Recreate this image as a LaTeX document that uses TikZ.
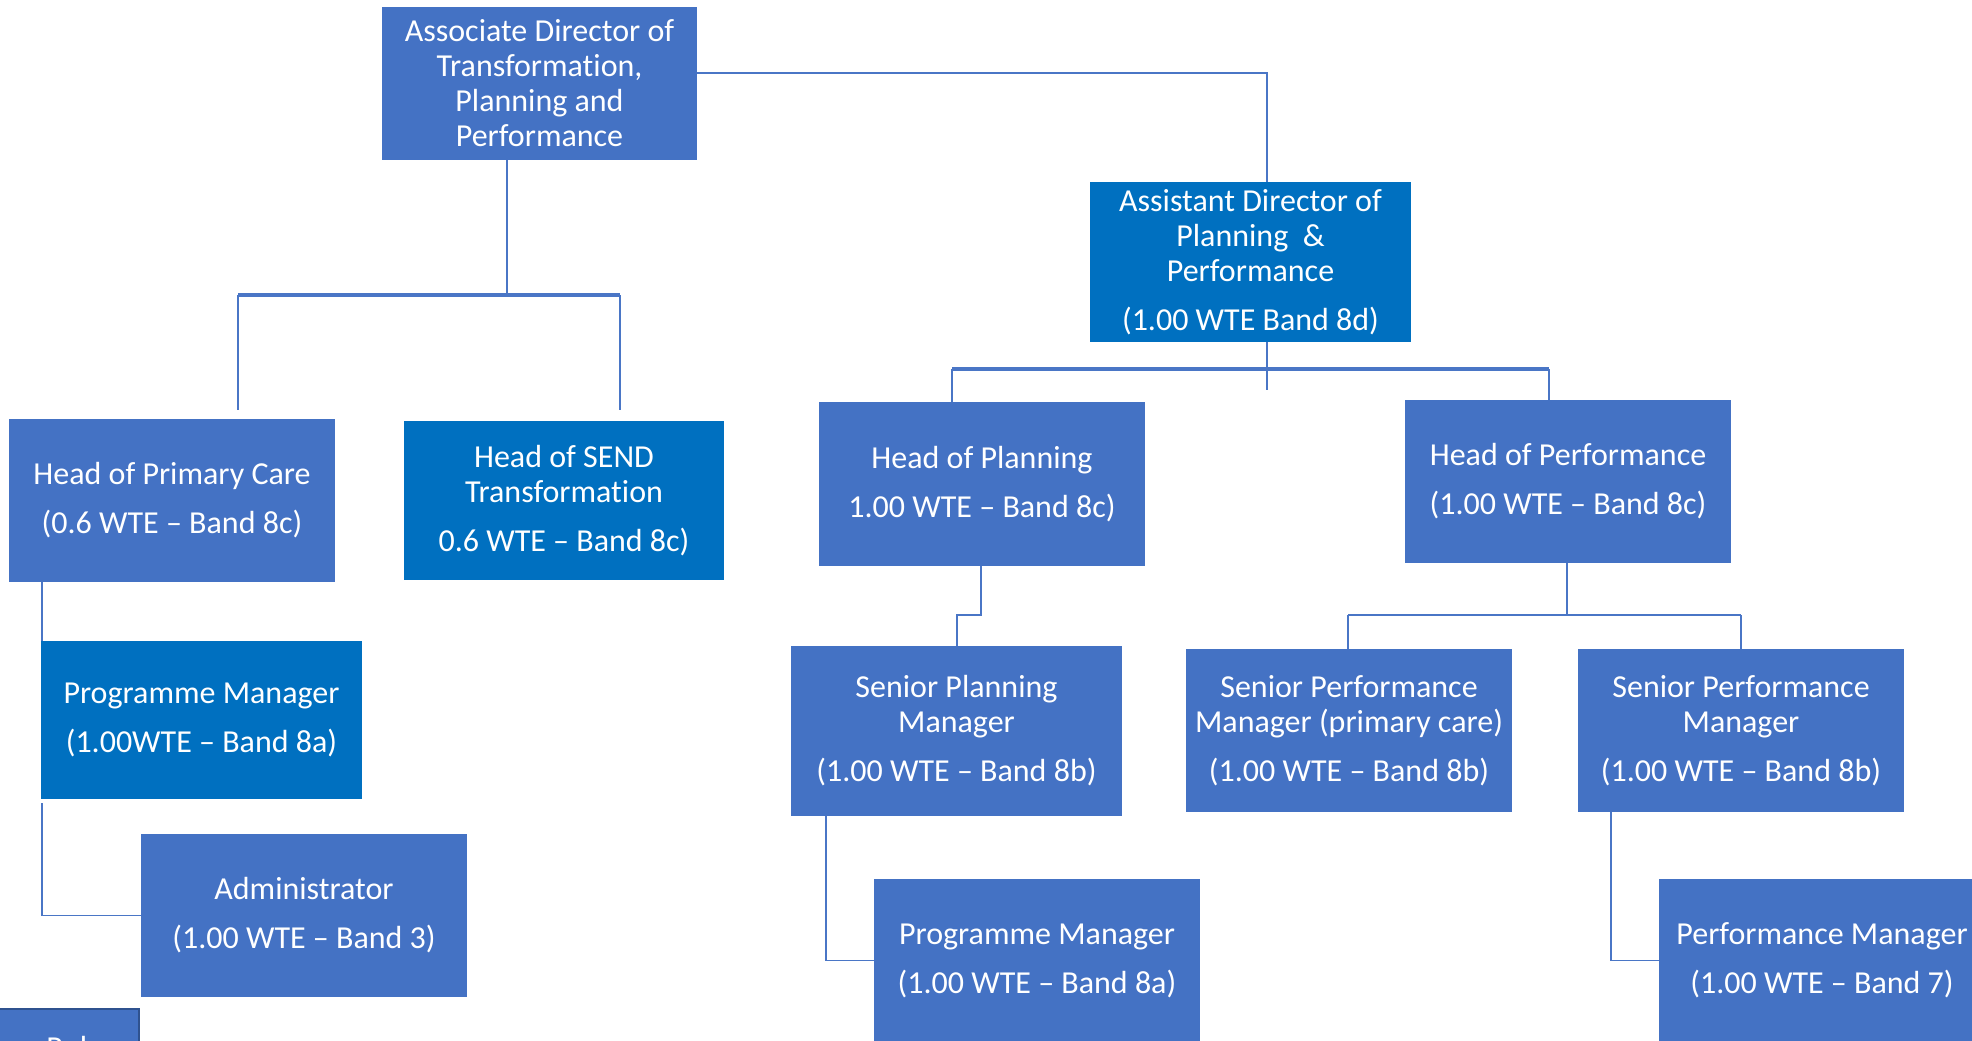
\documentclass[tikz,border=0pt]{standalone}
\usepackage{fontspec}
\setmainfont{Carlito}[Ligatures={TeX,NoCommon}]
\definecolor{boxL}{HTML}{4472C4}
\definecolor{boxD}{HTML}{0070C0}
\definecolor{lineC}{HTML}{4A76C6}
\definecolor{rolB}{HTML}{2F528F}
\begin{document}
\begin{tikzpicture}[x=0.75pt,y=-0.75pt,
  box/.style={draw=none, inner sep=0pt, text=white, align=center,
    font=\fontsize{24}{26.25}\selectfont},
  conn/.style={draw=lineC, line width=1.4pt},
  bar/.style={draw=lineC, line width=2.4pt}]
\useasboundingbox (0,0) rectangle (1972,1040);
\clip (0,0) rectangle (1972,1040);

% boxes
\node[box, fill=boxL, minimum width=315*0.75pt, minimum height=153*0.75pt] (assoc) at (539.5,83.5)
  {Associate Director of\\Transformation,\\Planning and\\Performance};
\node[box, fill=boxD, minimum width=321*0.75pt, minimum height=160*0.75pt] (asst) at (1250.5,262)
  {Assistant Director of\\Planning~~\&\\Performance\\[10.5pt](1.00 WTE Band 8d)};
\node[box, fill=boxL, minimum width=326*0.75pt, minimum height=163*0.75pt] (hpc) at (172,500.5)
  {Head of Primary Care\\[10.5pt](0.6 WTE -- Band 8c)};
\node[box, fill=boxD, minimum width=320*0.75pt, minimum height=159*0.75pt] (send) at (564,500.5)
  {Head of SEND\\Transformation\\[10.5pt]0.6 WTE -- Band 8c)};
\node[box, fill=boxD, minimum width=321*0.75pt, minimum height=158*0.75pt] (pmL) at (201.5,720)
  {Programme Manager\\[10.5pt](1.00WTE -- Band 8a)};
\node[box, fill=boxL, minimum width=326*0.75pt, minimum height=163*0.75pt] (admin) at (304,915.5)
  {Administrator\\[10.5pt](1.00 WTE -- Band 3)};
\node[box, fill=boxL, minimum width=326*0.75pt, minimum height=164*0.75pt] (hplan) at (982,484)
  {Head of Planning\\[10.5pt]1.00 WTE -- Band 8c)};
\node[box, fill=boxL, minimum width=326*0.75pt, minimum height=163*0.75pt] (hperf) at (1568,481.5)
  {Head of Performance\\[10.5pt](1.00 WTE -- Band 8c)};
\node[box, fill=boxL, minimum width=331*0.75pt, minimum height=170*0.75pt] (spm) at (956.5,731)
  {Senior Planning\\Manager\\[10.5pt](1.00 WTE -- Band 8b)};
\node[box, fill=boxL, minimum width=326*0.75pt, minimum height=163*0.75pt] (spmpc) at (1349,730.5)
  {Senior Performance\\Manager (primary care)\\[10.5pt](1.00 WTE -- Band 8b)};
\node[box, fill=boxL, minimum width=326*0.75pt, minimum height=163*0.75pt] (sperf) at (1741,730.5)
  {Senior Performance\\Manager\\[10.5pt](1.00 WTE -- Band 8b)};
\node[box, fill=boxL, minimum width=326*0.75pt, minimum height=163*0.75pt] (pmR) at (1037,960.5)
  {Programme Manager\\[10.5pt](1.00 WTE -- Band 8a)};
\node[box, fill=boxL, minimum width=326*0.75pt, minimum height=163*0.75pt] (perfm) at (1822,960.5)
  {Performance Manager\\[10.5pt](1.00 WTE -- Band 7)};
\node[box, fill=boxL, draw=rolB, line width=2.2pt, minimum width=150*0.75pt, minimum height=80*0.75pt] (rol) at (64,1049) {};
\node[box, anchor=base west] (roltext) at (46,1058) {Role};

% junction coordinates
\coordinate (jA) at (507,295);
\coordinate (jAl) at (238,295);
\coordinate (jAr) at (620,295);
\coordinate (eAl) at (238,410);
\coordinate (eAr) at (620,410);
\coordinate (jT) at (1267,73);
\coordinate (jB) at (1267,369);
\coordinate (eB) at (1267,390);
\coordinate (jBl) at (952,369);
\coordinate (jBr) at (1549,369);
\coordinate (jC) at (981,615);
\coordinate (jCl) at (957,615);
\coordinate (jD) at (1567,615);
\coordinate (jDl) at (1348,615);
\coordinate (jDr) at (1741,615);
\coordinate (jE) at (42,803);
\coordinate (jF) at (826,816);
\coordinate (jG) at (1611,812);

% connectors
\draw[conn] (assoc.south -| jA) -- (jA);
\draw[bar] (jAl) -- (jAr);
\draw[conn] (jAl) -- (eAl);
\draw[conn] (jAr) -- (eAr);
\draw[conn] (assoc.east |- jT) -- (jT) -- (asst.north -| jT);
\draw[conn] (asst.south -| jB) -- (eB);
\draw[bar] (jBl) -- (jBr);
\draw[conn] (jBl) -- (hplan.north -| jBl);
\draw[conn] (jBr) -- (hperf.north -| jBr);
\draw[conn, line width=2pt] (hpc.south -| jE) -- (pmL.north -| jE);
\draw[conn] (jE) |- (admin.west);
\draw[conn] (hplan.south -| jC) -- (jC) -- (jCl) -- (spm.north -| jCl);
\draw[conn] (jF) |- (pmR.west);
\draw[conn] (hperf.south -| jD) -- (jD);
\draw[conn] (jDl) -- (jDr);
\draw[conn] (jDl) -- (spmpc.north -| jDl);
\draw[conn] (jDr) -- (sperf.north -| jDr);
\draw[conn] (jG) |- (perfm.west);
\end{tikzpicture}
\end{document}
